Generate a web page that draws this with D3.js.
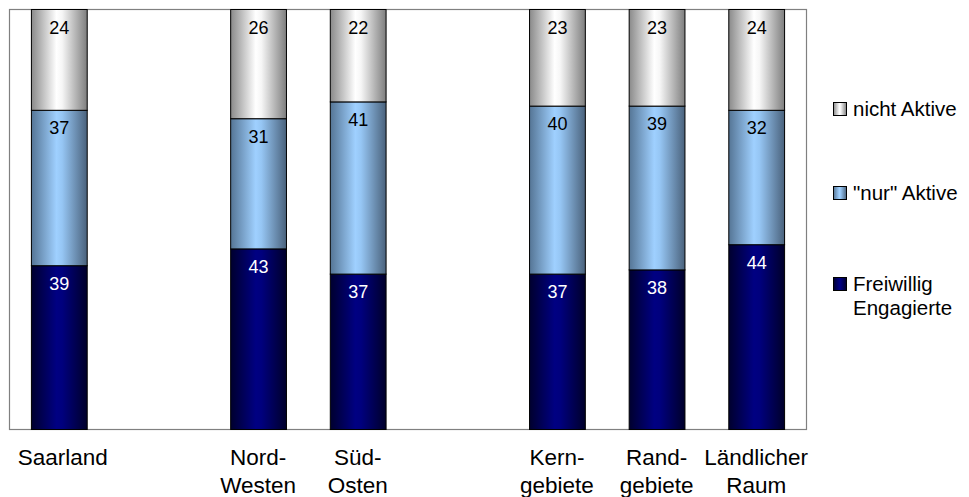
<!DOCTYPE html>
<html>
<head>
<meta charset="utf-8">
<script src="https://cdn.jsdelivr.net/npm/d3@7"></script>
<style>
  html, body { margin: 0; padding: 0; background: #fff; }
  svg { display: block; font-family: "Liberation Sans", Arial, sans-serif; }
</style>
</head>
<body>
<svg id="chart" width="969" height="497"></svg>
<script>
// ---- data ----
const categories = ["Saarland", "Nord-Westen", "Süd-Osten", "Kerngebiete", "Randgebiete", "Ländlicher Raum"];
const slots = ["Saarland", "gap1", "Nord-Westen", "Süd-Osten", "gap2", "Kerngebiete", "Randgebiete", "Ländlicher Raum"];
const categoryLines = [["Saarland"], ["Nord-", "Westen"], ["Süd-", "Osten"], ["Kern-", "gebiete"], ["Rand-", "gebiete"], ["Ländlicher", "Raum"]];
const freiwillig = [39, 43, 37, 37, 38, 44];
const nurAktive = [37, 31, 41, 40, 39, 32];
const nichtAktive = [24, 26, 22, 23, 23, 24];
const seriesKeys = ["freiwillig", "nurAktive", "nichtAktive"];
const seriesNames = ["Freiwillig Engagierte", "\"nur\" Aktive", "nicht Aktive"];

// ---- layout ----
const svg = d3.select("#chart");
const plot = { left: 9, top: 9, right: 806, bottom: 429 };

const x = d3.scaleBand().domain(slots).range([plot.left, plot.right])
  .paddingInner(0.44).paddingOuter(0.22);
const y = d3.scaleLinear().domain([0, 100]).range([plot.bottom, plot.top]);

const rows = categories.map((c, i) => ({
  cat: c, freiwillig: freiwillig[i], nurAktive: nurAktive[i], nichtAktive: nichtAktive[i]
}));
const stacked = d3.stack().keys(seriesKeys)(rows);

// gradients
const defs = svg.append("defs");
const grads = {
  freiwillig: [["0%", "#00002e"], ["45%", "#000082"], ["55%", "#00007e"], ["100%", "#00002a"]],
  nurAktive: [["0%", "#557595"], ["45%", "#9fd0ff"], ["55%", "#96c6f4"], ["100%", "#4a627c"]],
  nichtAktive: [["0%", "#8a8a8a"], ["45%", "#ffffff"], ["55%", "#f6f6f6"], ["100%", "#7e7e7e"]]
};
seriesKeys.forEach(k => {
  const g = defs.append("linearGradient").attr("id", "g-" + k)
    .attr("x1", "0%").attr("x2", "100%").attr("y1", "0%").attr("y2", "0%");
  grads[k].forEach(([o, c]) => g.append("stop").attr("offset", o).attr("stop-color", c));
});

// plot frame
svg.append("rect")
  .attr("x", plot.left + 0.5).attr("y", plot.top + 0.5)
  .attr("width", plot.right - plot.left).attr("height", plot.bottom - plot.top)
  .attr("fill", "none").attr("stroke", "#808080").attr("stroke-width", 1.2);

// bars
const labelColor = { freiwillig: "#ffffff", nurAktive: "#000000", nichtAktive: "#000000" };
stacked.forEach(s => {
  const g = svg.append("g");
  g.selectAll("rect").data(s).join("rect")
    .attr("x", d => x(d.data.cat) + 0.5)
    .attr("y", d => y(d[1]) + 0.5)
    .attr("width", x.bandwidth())
    .attr("height", d => y(d[0]) - y(d[1]))
    .attr("fill", "url(#g-" + s.key + ")")
    .attr("stroke", "#000").attr("stroke-width", 1);
  g.selectAll("text").data(s).join("text")
    .attr("x", d => x(d.data.cat) + x.bandwidth() / 2 + 0.5)
    .attr("y", d => y(d[1]) + 24.5)
    .attr("text-anchor", "middle")
    .attr("font-size", 18)
    .attr("fill", labelColor[s.key])
    .text(d => d[1] - d[0]);
});

// category labels
const catG = svg.append("g");
categories.forEach((c, i) => {
  const t = catG.append("text")
    .attr("text-anchor", "middle")
    .attr("font-size", 22.5)
    .attr("fill", "#000");
  categoryLines[i].forEach((line, j) => {
    t.append("tspan")
      .attr("x", x(c) + x.bandwidth() / 2 + (i === 0 ? 4 : 0))
      .attr("y", 465 + j * 28)
      .text(line);
  });
});

// legend
const legendItems = [
  { key: "nichtAktive", lines: ["nicht Aktive"], base: 116 },
  { key: "nurAktive", lines: ["\"nur\" Aktive"], base: 200 },
  { key: "freiwillig", lines: ["Freiwillig", "Engagierte"], base: 291 }
];
const lg = svg.append("g");
legendItems.forEach(it => {
  lg.append("rect")
    .attr("x", 833.5).attr("y", it.base - 13.5)
    .attr("width", 13).attr("height", 13)
    .attr("fill", "url(#g-" + it.key + ")")
    .attr("stroke", "#000").attr("stroke-width", 1);
  const t = lg.append("text").attr("font-size", 20.5).attr("fill", "#000");
  it.lines.forEach((line, j) => {
    t.append("tspan").attr("x", 853).attr("y", it.base + j * 24).text(line);
  });
});
</script>
</body>
</html>
